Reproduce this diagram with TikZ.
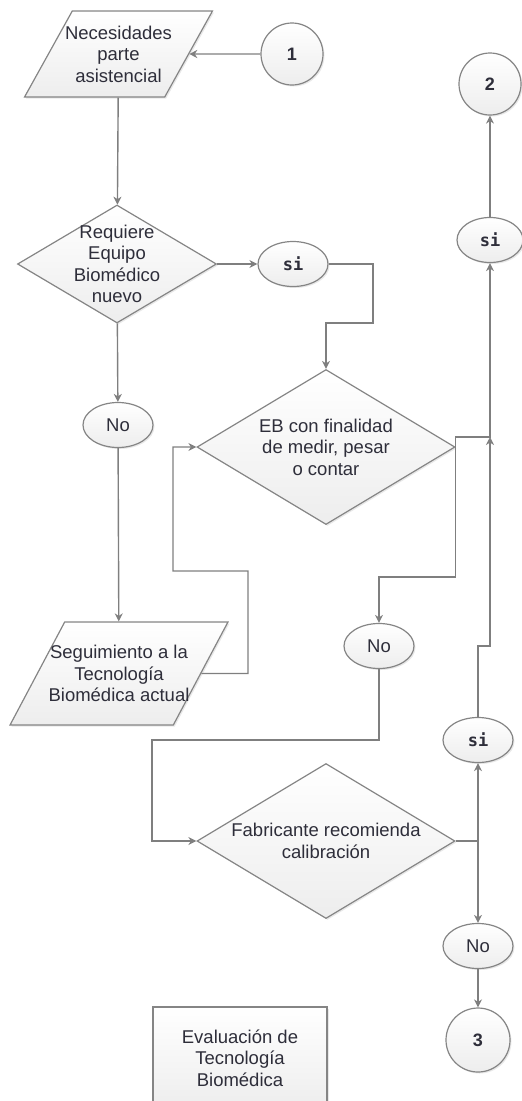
\documentclass[tikz,border=0pt]{standalone}
\usepackage{fontspec}
\setmainfont{Liberation Sans}
\newfontfamily\monofont{DejaVu Sans Mono}
\usepackage{tikz}
\usetikzlibrary{positioning, arrows.meta, shapes.geometric, shadows}

\definecolor{linegray}{HTML}{7F7F7F}
\definecolor{edgegray}{HTML}{858585}
\definecolor{txtgray}{HTML}{2E2E3A}

\begin{document}
\begin{tikzpicture}[x=1pt, y=-1pt,
  base/.style={draw=edgegray, line width=1.2pt, top color=white, bottom color=black!7,
    drop shadow={opacity=0.18, shadow xshift=1.5pt, shadow yshift=-1.5pt},
    inner sep=0pt, text=txtgray},
  txt/.style={font=\fontsize{18.5}{21.5}\selectfont, align=center, text=txtgray, inner sep=0pt},
  datos/.style={base, trapezium, trapezium stretches},
  dec/.style={base, diamond},
  elip/.style={base, ellipse, minimum width=70, minimum height=45, font=\fontsize{18.5}{21}\selectfont},
  siel/.style={elip, font=\monofont\bfseries\fontsize{17}{20}\selectfont},
  circ/.style={base, circle, minimum size=62, font=\bfseries\fontsize{18}{21}\selectfont},
  caja/.style={base, rectangle, align=center, font=\fontsize{18.5}{21.5}\selectfont},
  arr/.style={draw=linegray, line width=1.4pt, -{Stealth[length=8pt, width=8pt, inset=2.5pt]}}]
\useasboundingbox (0,0) rectangle (522,1101);

% bloques
\node[datos, minimum width=188, minimum height=86, trapezium left angle=63.4, trapezium right angle=116.6,
  label={[txt]center:{Necesidades\\parte\\asistencial}}] (necesidades) at (118.5,54) {\phantom{X}};
\node[circ] (one) at (292,54) {1};
\node[dec, minimum width=199, minimum height=118,
  label={[txt]center:{Requiere\\Equipo\\Biomédico\\nuevo}}] (requiere) at (117,264) {};
\node[siel] (si1) at (293,264) {si};
\node[elip] (no1) at (118,425) {No};
\node[datos, minimum width=218, minimum height=103, trapezium left angle=64, trapezium right angle=116,
  label={[txt]center:{Seguimiento a la\\Tecnología\\Biomédica actual}}] (seguimiento) at (119,673.5) {\phantom{X}};
\node[dec, minimum width=258, minimum height=155,
  label={[txt]center:{EB con finalidad\\de medir, pesar\\o contar}}] (medir) at (326,447) {};
\node[elip] (no2) at (379,646) {No};
\node[dec, minimum width=258, minimum height=155,
  label={[txt]center:{Fabricante recomienda\\calibración}}] (calib) at (326,841) {};
\node[siel] (si3) at (478,740) {si};
\node[elip] (no3) at (478,946) {No};
\node[circ, minimum size=64] (three) at (478,1040) {3};
\node[siel, minimum width=66] (si2) at (490,240) {si};
\node[circ] (two) at (490,84) {2};
\node[caja, minimum width=174, minimum height=102] (evaluacion) at (240,1058) {Evaluación de\\Tecnología\\Biomédica};
\coordinate (junta) at (490,437); % union de las dos ramas si

% conectores
\draw[arr] (one) -- (necesidades);
\draw[arr] (necesidades) -- (requiere);
\draw[arr] (requiere) -- (si1);
\draw[arr] (requiere) -- (no1);
\draw[arr] (no1) -- (seguimiento);
\draw[arr] (si1.east) -| (373,323) -| (medir.north);
\draw[arr] (seguimiento) -- (248,673.5) |- (173,571) |- (medir.west);
\draw[arr] (medir.east) |- (junta) -- (si2.south);
\draw[arr] (medir.east) -- ++(0,130) -| (no2.north);
\draw[arr] (no2.south) |- (152,740) |- (calib.west);
\draw[arr] (calib.east) -| (si3.south);
\draw[arr] (calib.east) -| (no3.north);
\draw[arr] (si3.north) -- ++(0,-71) -| (junta);
\draw[arr] (si2) -- (two);
\draw[arr] (no3) -- (three);
\end{tikzpicture}
\end{document}
